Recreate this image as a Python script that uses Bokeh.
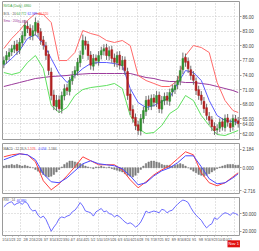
from bokeh.plotting import figure
from bokeh.layouts import column
from bokeh.models import FixedTicker, Label, Range1d
from bokeh.embed import file_html
from bokeh.resources import INLINE

# ---------------- data ----------------
opens = [76.2, 77.1, 77.8, 78.7, 79.3, 80.3, 79.1, 80.6, 82.0, 84.0,
         83.6, 82.0, 83.0, 84.6, 82.9, 81.2, 80.0, 78.2, 74.6, 69.9,
         67.5, 68.9, 67.0, 69.7, 71.4, 70.6, 72.8, 74.1, 74.8, 76.5,
         78.2, 81.0, 80.3, 78.1, 75.8, 77.5, 76.8, 78.1, 78.9, 79.6,
         77.9, 79.2, 77.5, 76.5, 78.1, 75.9, 77.1, 74.7, 70.1, 66.9,
         65.3, 63.8, 62.5, 65.0, 66.5, 68.9, 67.6, 69.3, 68.3, 69.9,
         67.0, 68.7, 69.7, 68.6, 70.5, 71.0, 72.0, 72.8, 75.1, 77.6,
         76.8, 75.1, 74.0, 72.7, 71.0, 69.9, 68.6, 67.3, 65.5, 64.8,
         63.5, 62.7, 63.1, 64.4, 63.2, 65.2, 64.1, 63.4, 65.0, 64.6]
closes = [77.0, 78.0, 78.6, 79.4, 80.1, 79.0, 80.7, 82.1, 84.2, 83.5,
          82.1, 83.1, 84.8, 82.7, 81.1, 80.1, 78.0, 74.9, 69.8, 67.7,
          68.8, 67.1, 69.8, 71.2, 70.8, 72.9, 73.9, 74.9, 76.6, 78.0,
          81.1, 80.1, 78.0, 76.0, 77.4, 77.0, 78.0, 79.0, 79.4, 78.0,
          79.0, 77.4, 76.6, 78.0, 76.0, 77.0, 74.9, 69.8, 66.7, 65.1,
          63.6, 62.6, 65.1, 66.7, 68.8, 67.7, 69.2, 68.4, 69.8, 67.1,
          68.8, 69.6, 68.8, 70.4, 71.2, 71.9, 72.9, 74.9, 77.4, 76.6,
          75.3, 73.9, 72.9, 70.8, 69.8, 68.8, 67.1, 65.7, 64.7, 63.4,
          62.6, 63.0, 64.3, 63.4, 65.1, 64.3, 63.2, 65.1, 64.5, 64.0]
highs = [77.8, 78.9, 79.5, 80.2, 81.0, 81.2, 81.6, 83.0, 85.3, 85.0,
         84.4, 84.2, 85.8, 85.2, 83.6, 82.0, 80.8, 79.0, 75.5, 70.9,
         69.9, 69.8, 70.6, 72.1, 72.2, 73.6, 74.8, 75.8, 77.5, 79.0,
         82.3, 81.9, 81.0, 78.9, 78.3, 78.2, 78.9, 79.8, 80.3, 80.4,
         79.9, 80.0, 78.4, 78.8, 78.9, 77.9, 77.8, 75.5, 71.0, 67.8,
         66.1, 64.6, 66.0, 67.5, 69.7, 69.8, 70.0, 70.1, 70.7, 70.6,
         69.7, 70.4, 70.5, 71.2, 72.0, 72.7, 73.8, 75.9, 78.6, 78.4,
         77.6, 75.9, 74.8, 73.5, 71.8, 70.7, 69.5, 68.1, 66.4, 65.6,
         64.3, 63.9, 65.1, 65.2, 65.9, 66.0, 64.9, 65.9, 65.8, 65.4]
lows = [75.4, 76.3, 77.0, 77.9, 78.5, 78.1, 78.3, 79.8, 81.1, 82.6,
        81.2, 81.1, 82.1, 81.8, 80.2, 79.2, 77.1, 74.0, 68.8, 66.8,
        66.6, 66.2, 66.1, 68.8, 69.9, 69.8, 72.0, 73.3, 73.9, 75.6,
        77.3, 79.2, 77.1, 75.1, 74.9, 76.2, 75.9, 77.2, 78.0, 77.1,
        77.0, 76.5, 75.7, 75.6, 75.1, 75.0, 74.0, 68.9, 65.8, 64.2,
        62.7, 61.7, 61.6, 64.1, 65.6, 66.8, 66.8, 67.5, 67.4, 66.2,
        66.1, 67.8, 67.9, 67.7, 69.6, 70.1, 71.1, 71.9, 74.2, 75.7,
        74.4, 73.0, 72.0, 69.9, 68.9, 67.9, 66.2, 64.8, 63.8, 62.5,
        61.7, 61.8, 62.3, 62.6, 62.4, 63.4, 62.3, 62.6, 63.7, 63.2]

band_idx = [0, 3, 6, 9, 12, 15, 18, 21, 24, 27, 30, 33, 36, 39, 42, 45,
            48, 51, 54, 57, 60, 63, 66, 69, 72, 75, 78, 81, 84, 87, 89]
bol_upper = [79.43, 81.49, 83.13, 85.18, 86.62, 86.41, 84.77, 76.97, 76.97, 78.62,
             83.13, 82.51, 82.10, 81.08, 80.67, 81.08, 80.05, 73.90, 72.87, 72.26,
             71.64, 71.64, 72.87, 78.00, 80.05, 79.64, 78.62, 72.46, 68.77, 66.72, 66.31]
bol_mid = [75.95, 77.38, 79.03, 81.49, 82.31, 80.46, 77.38, 74.31, 72.46, 73.90,
           75.33, 76.36, 76.56, 76.56, 76.36, 75.95, 71.23, 68.36, 67.33, 67.74,
           68.56, 69.38, 72.26, 74.92, 74.51, 72.87, 68.77, 65.69, 64.66, 64.46, 64.26]
bol_lower = [74.51, 74.10, 74.51, 76.56, 78.00, 75.33, 67.74, 66.31, 67.33, 69.79,
             71.02, 71.43, 71.64, 71.85, 72.26, 71.23, 65.69, 63.03, 62.00, 62.21,
             63.64, 66.10, 67.13, 69.79, 68.77, 65.69, 63.64, 61.79, 61.59, 62.21, 62.62]
sma200 = [71.64, 72.05, 72.46, 72.87, 73.28, 73.49, 73.69, 73.79, 73.90, 74.10,
          74.21, 74.31, 74.31, 74.31, 74.31, 74.31, 74.31, 73.90, 73.49, 73.28,
          72.87, 72.67, 72.67, 72.46, 72.46, 72.26, 72.05, 71.64, 71.23, 70.82, 70.41]

macd_line = [1.31, 1.55, 1.67, 1.55, 0.72, -1.55, -2.63, -1.91, -0.96, 0.12,
             1.31, 0.84, 0.36, 0.36, 0.36, -0.24, -1.43, -2.39, -1.67, -0.84,
             -0.24, 0.24, 1.08, 1.91, 1.55, -0.60, -1.79, -2.15, -1.79, -1.08, -0.60]
macd_signal = [0.96, 1.31, 1.67, 1.55, 0.96, -0.72, -1.67, -1.79, -1.20, -0.36,
               0.48, 0.84, 0.48, 0.36, 0.24, -0.12, -0.96, -2.03, -1.79, -0.96,
               -0.36, 0.00, 0.60, 1.43, 1.43, 0.12, -1.31, -1.91, -1.79, -1.20, -0.72]
macd_hist = [0.2, 0.3, 0.3, 0.4, 0.3, 0.4, 0.3, 0.2, 0.3, 0.2,
             0.1, 0.0, -0.2, -0.4, -0.6, -0.8, -1.0, -1.1, -1.0, -0.8,
             -0.5, -0.2, 0.1, 0.4, 0.6, 0.8, 0.8, 0.7, 0.6, 0.5,
             0.4, 0.2, 0.1, 0.0, -0.1, 0.1, 0.1, 0.2, 0.1, 0.0,
             0.1, -0.1, -0.2, -0.3, -0.4, -0.5, -0.7, -0.9, -1.0, -1.1,
             -0.9, -0.6, -0.2, 0.2, 0.5, 0.7, 0.8, 0.8, 0.7, 0.6,
             0.4, 0.3, 0.3, 0.3, 0.2, 0.3, 0.4, 0.5, 0.4, 0.2,
             0.0, -0.2, -0.4, -0.6, -0.8, -0.9, -1.0, -0.9, -0.7, -0.5,
             -0.3, -0.1, 0.1, 0.2, 0.3, 0.4, 0.4, 0.4, 0.3, 0.3]

rsi = [61.4, 65.7, 68.6, 70.0, 64.3, 67.2, 68.6, 65.7, 70.0, 67.2,
       58.6, 54.3, 55.7, 47.1, 42.9, 45.7, 40.0, 30.0, 20.0, 27.1,
       32.8, 41.4, 44.3, 42.9, 45.7, 47.1, 52.9, 55.7, 61.4, 68.6,
       62.9, 54.3, 52.9, 51.4, 45.7, 52.9, 55.7, 58.6, 52.9, 54.3,
       50.0, 48.6, 44.3, 47.1, 44.3, 40.0, 35.7, 32.8, 34.3, 31.4,
       27.1, 30.0, 35.7, 44.3, 54.3, 51.4, 52.9, 54.3, 52.9, 51.4,
       57.2, 55.7, 51.4, 54.3, 55.7, 61.4, 65.7, 70.0, 72.9, 71.5,
       68.6, 60.0, 52.9, 47.1, 42.9, 38.6, 31.4, 25.7, 30.0, 32.8,
       42.9, 40.0, 44.3, 48.6, 51.4, 50.0, 47.1, 51.4, 50.0, 47.1]

price_ticks = [62, 65, 68, 71, 74, 77, 80, 83, 86]
macd_ticks = [2.184, 0.0, -2.716]
macd_tick_labels = ["2.184", "0.000", "-2.716"]
rsi_ticks = [50, 20]
rsi_tick_labels = ["50.000", "20.000"]
date_labels = ["1/14", "1/23", "2/2", "2/8", "2/16", "2/26", "3/7", "3/14", "3/22",
               "3/30", "4/7", "4/14", "4/25", "5/2", "5/10", "5/19", "5/26", "6/3",
               "6/10", "6/21", "6/28", "7/6", "7/18", "7/25", "8/2", "8/9", "8/16",
               "8/24", "9/1", "9/8", "9/16", "9/23", "10/4", "10/12"]
last_date = "Nov 1"

# ---------------- styling ----------------
FONT = "Liberation Sans"
FS = "4.5px"
FS_SMALL = "3.2px"
N = len(closes)
idx = list(range(N))
xr = Range1d(-0.5, N - 0.5)
date_pos = [round(0.6 + 2.56 * k, 2) for k in range(len(date_labels))]
grid_pos = [round((20 * k - 3.35) / 2.7, 2) for k in range(1, 13)]


def style(p):
    p.outline_line_color = "#9a9a9a"
    p.background_fill_color = "white"
    p.border_fill_color = "white"
    p.xgrid.ticker = FixedTicker(ticks=grid_pos)
    for g in (p.xgrid, p.ygrid):
        g.grid_line_color = "#c8c8c8"
        g.grid_line_dash = "1 2"
        g.grid_line_width = 1
    ax = p.yaxis[0]
    ax.axis_line_color = None
    ax.major_tick_out = 2
    ax.major_tick_in = 0
    ax.minor_tick_line_color = None
    ax.major_tick_line_color = "#9a9a9a"
    ax.major_label_standoff = 1
    ax.major_label_text_font = FONT
    ax.major_label_text_font_size = FS
    ax.major_label_text_color = "#444444"


common = dict(width=259, output_backend="svg", toolbar_location=None,
              x_range=xr, y_axis_location="right",
              min_border_left=2, min_border_right=14)

# ---- main price panel ----
p1 = figure(height=141, y_range=Range1d(60.77, 89.08), x_axis_location=None,
            min_border_top=1, min_border_bottom=2, **common)
style(p1)
last_close = closes[-1]
p1.yaxis.ticker = FixedTicker(ticks=price_ticks + [last_close])
overrides = {t: f"{t:.2f}" for t in price_ticks}
overrides[last_close] = f"{last_close:.2f}"
p1.yaxis.major_label_overrides = overrides

p1.line(band_idx, sma200, line_color="#9b3a9b", line_width=1)
p1.line(band_idx, bol_upper, line_color="#ff6a6a", line_width=1)
p1.line(band_idx, bol_mid, line_color="#5a5aff", line_width=1)
p1.line(band_idx, bol_lower, line_color="#5fe05f", line_width=1)

up = [i for i in idx if closes[i] >= opens[i]]
dn = [i for i in idx if closes[i] < opens[i]]
p1.segment(idx, highs, idx, lows, line_color="#6e6e6e", line_width=1)
p1.vbar(x=up, width=0.7, bottom=[opens[i] for i in up], top=[closes[i] for i in up],
        fill_color="#2f8f2f", line_color="#2f8f2f", line_width=0.5)
p1.vbar(x=dn, width=0.7, bottom=[closes[i] for i in dn], top=[opens[i] for i in dn],
        fill_color="#b02020", line_color="#b02020", line_width=0.5)


def txt(p, x, y, s, color, xo=0):
    p.add_layout(Label(x=x, y=y, text=s, x_offset=xo, text_font=FONT,
                       text_font_size=FS_SMALL, text_color=color,
                       text_baseline="middle"))


txt(p1, -0.5, 88.26, "NVDA (Daily) ,6860", "#3aa03a", 1)
txt(p1, -0.5, 86.6, "BOL : 20", "#555555", 1)
txt(p1, -0.5, 86.6, "64.772", "#3aa03a", 14)
txt(p1, -0.5, 86.6, "62.989", "#3a3aff", 25)
txt(p1, -0.5, 86.6, "66.520", "#ff3a3a", 36)
txt(p1, -0.5, 85.1, "Sma : 200", "#9b3a9b", 1)
txt(p1, -0.5, 85.1, "70.850", "#9b3a9b", 15)

# ---- MACD panel ----
p2 = figure(height=53, y_range=Range1d(-3.07, 2.90), x_axis_location=None,
            min_border_top=2, min_border_bottom=1, **common)
style(p2)
p2.yaxis.ticker = FixedTicker(ticks=macd_ticks)
p2.yaxis.major_label_overrides = dict(zip(macd_ticks, macd_tick_labels))
p2.vbar(x=idx, width=0.55, top=macd_hist, bottom=0, fill_color="#7a7a7a",
        line_color="#7a7a7a", line_width=0.5)
p2.line(band_idx, macd_line, line_color="#ff4040", line_width=1)
p2.line(band_idx, macd_signal, line_color="#4a4aff", line_width=1)
txt(p2, -0.5, 2.3, "MACD : 12,26,9", "#555555", 1)
txt(p2, -0.5, 2.3, "-1.576", "#ff3a3a", 24)
txt(p2, -0.5, 2.3, "-0.056", "#3a3aff", 35)
txt(p2, -0.5, 2.3, "1.584", "#555555", 46)

# ---- RSI panel ----
p3 = figure(height=57, y_range=Range1d(12.8, 77.2),
            min_border_top=3, min_border_bottom=0, **common)
style(p3)
p3.yaxis.ticker = FixedTicker(ticks=rsi_ticks)
p3.yaxis.major_label_overrides = dict(zip(rsi_ticks, rsi_tick_labels))
p3.line(idx, rsi, line_color="#6a6aff", line_width=1)
txt(p3, -0.5, 72.6, "RSI : 14", "#555555", 1)
txt(p3, -0.5, 72.6, "46.880", "#3a3aff", 14)

xa = p3.xaxis[0]
xa.ticker = FixedTicker(ticks=date_pos)
xa.major_label_overrides = dict(zip(date_pos, date_labels))
xa.axis_line_color = None
xa.major_tick_out = 1
xa.major_tick_in = 0
xa.major_tick_line_color = "#9a9a9a"
xa.minor_tick_line_color = None
xa.major_label_standoff = 1
xa.major_label_text_font = FONT
xa.major_label_text_font_size = FS_SMALL
xa.major_label_text_color = "#444444"

# last-date tag at the right end of the date row (side-panel label)
p3.add_layout(Label(x=N - 0.5, x_offset=-12, y=-1.3, text=last_date,
                    text_font=FONT, text_font_size="4px", text_color="white",
                    text_baseline="middle", background_fill_color="#e01010",
                    padding=1), "below")

layout = column(p1, p2, p3, spacing=0)
open("out.html", "w").write(file_html(layout, INLINE))
